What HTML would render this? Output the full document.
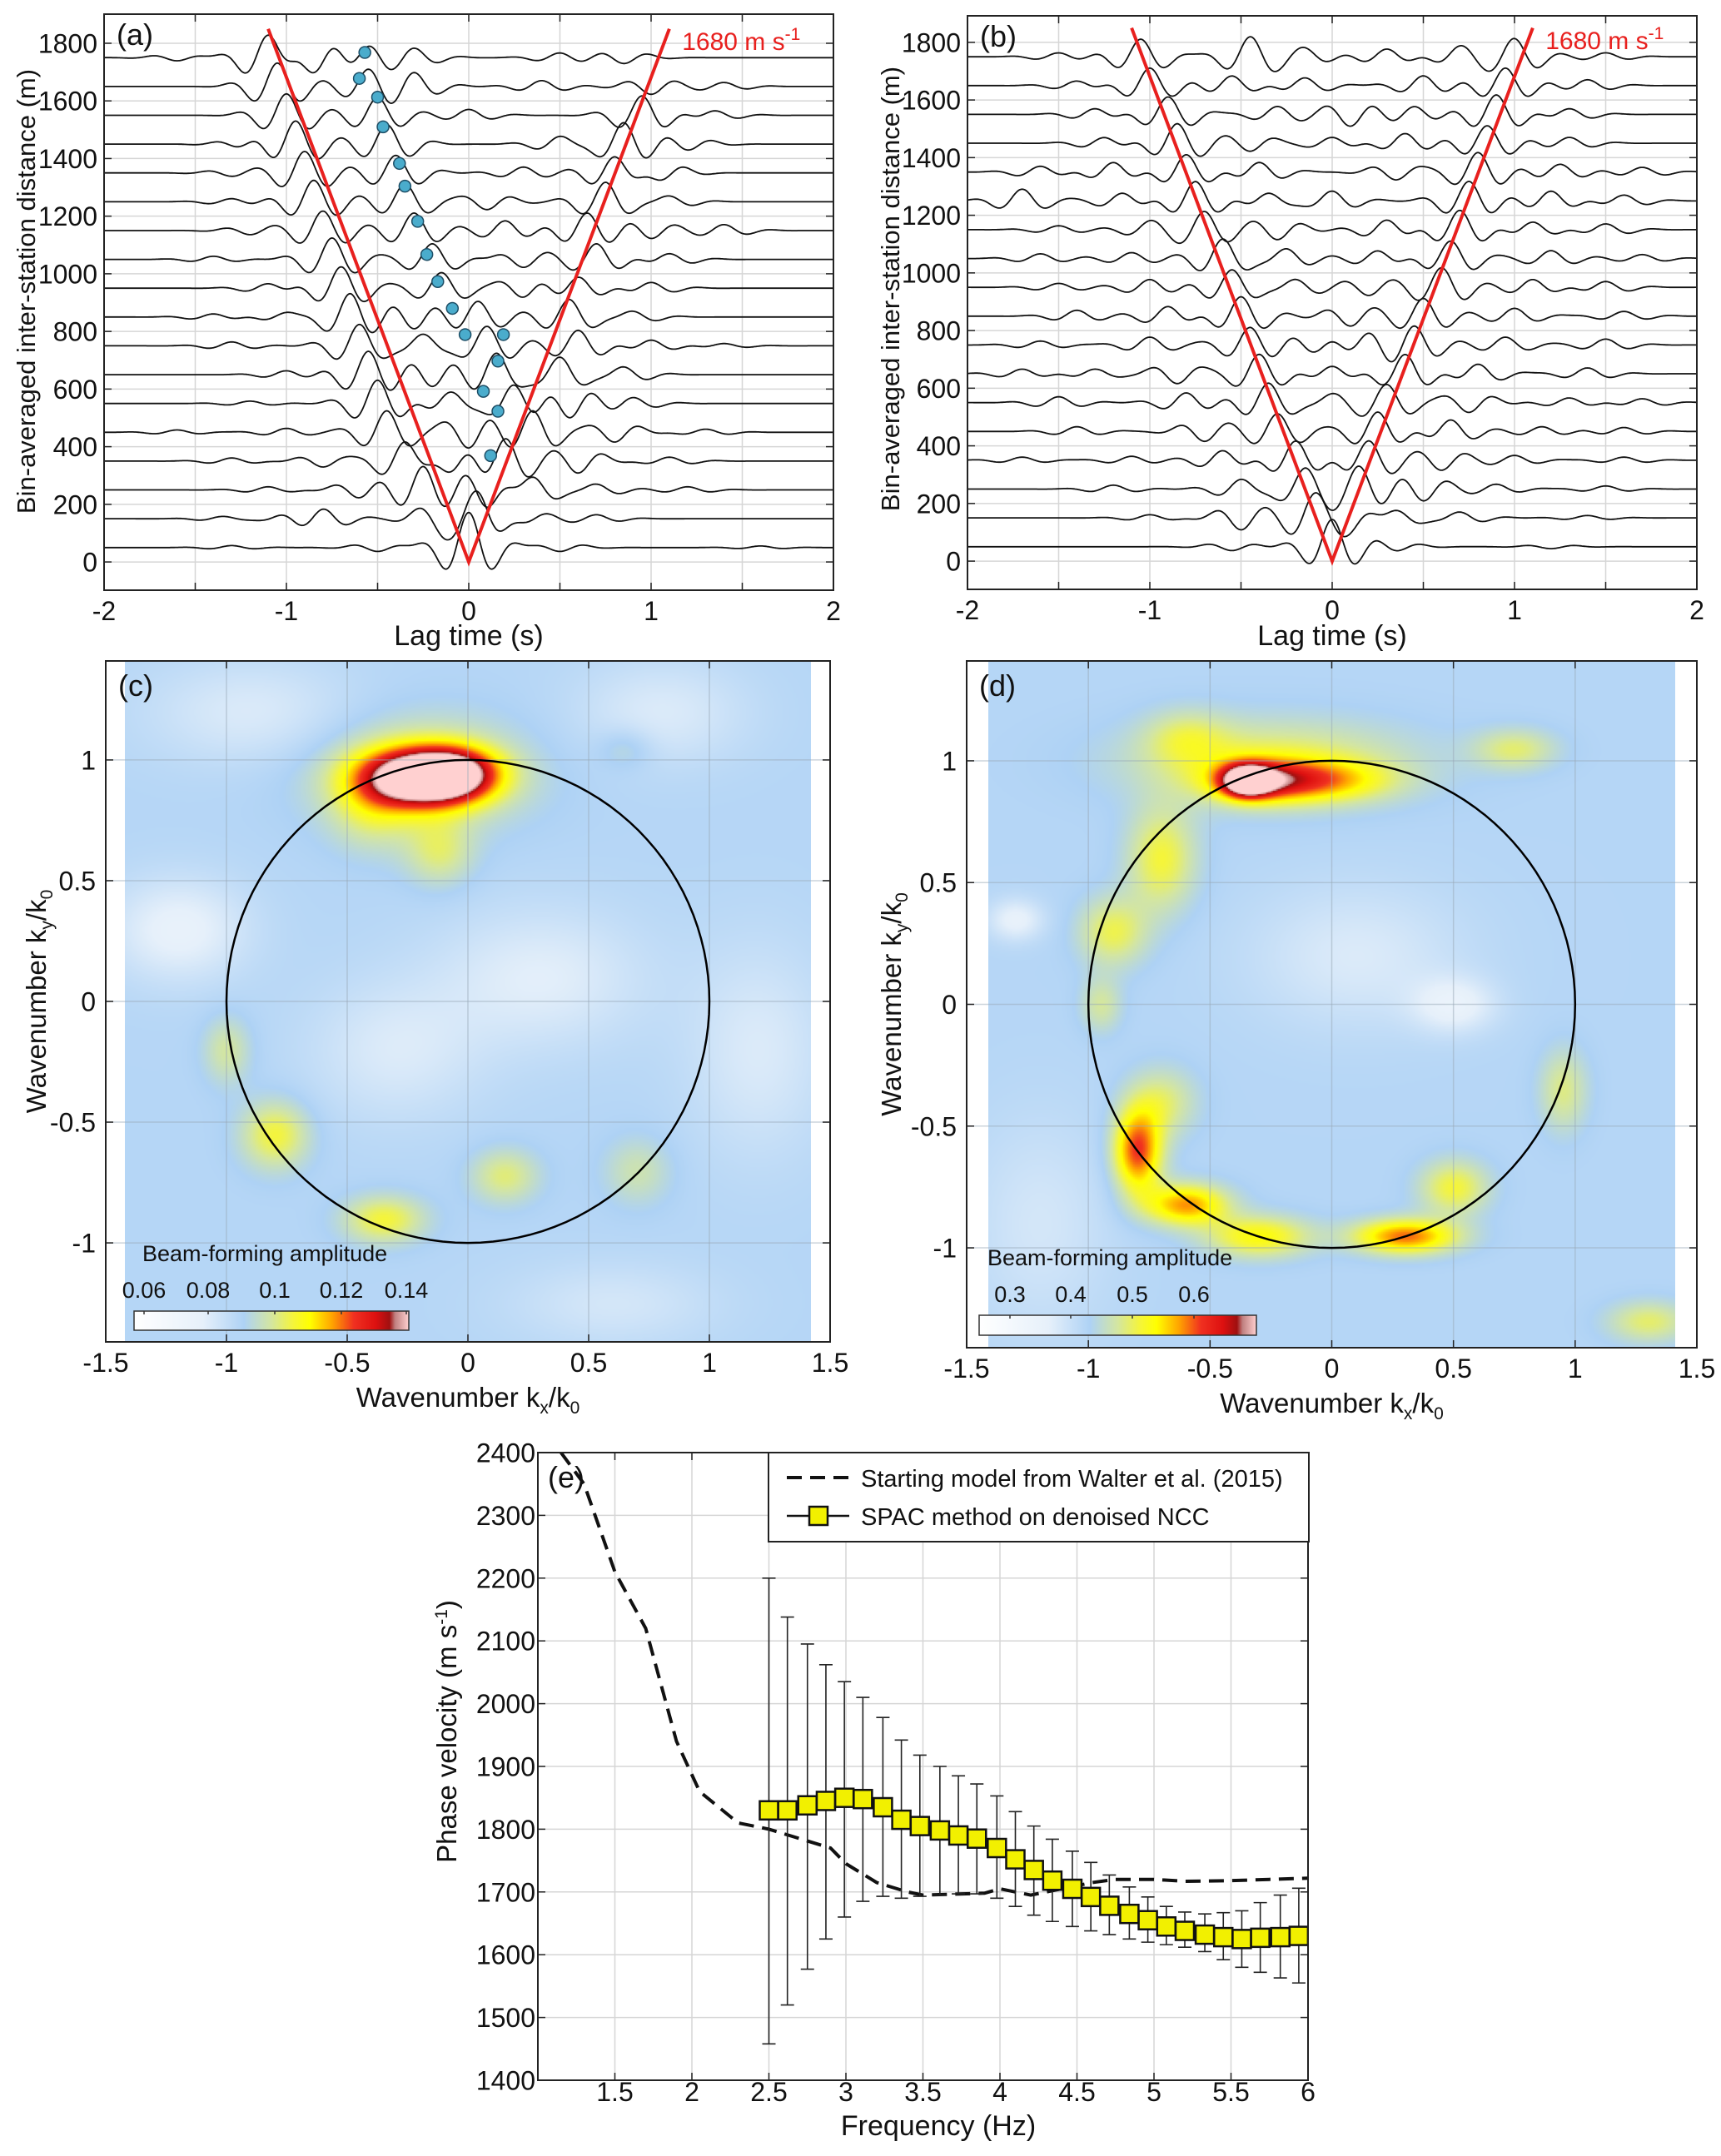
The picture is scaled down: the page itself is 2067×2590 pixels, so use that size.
<!DOCTYPE html>
<html><head><meta charset="utf-8">
<style>
html,body{margin:0;padding:0;background:#fff;}
#wrap{position:relative;width:2067px;height:2590px;overflow:hidden;font-family:"Liberation Sans",sans-serif;}
canvas{position:absolute;}
svg{position:absolute;left:0;top:0;}
</style></head>
<body>
<div id="wrap">
<canvas id="cvC"></canvas>
<canvas id="cvD"></canvas>
<svg id="fig" width="2067" height="2590" xmlns="http://www.w3.org/2000/svg"></svg>
</div>
<script>
// ---------------- DATA ----------------
const distA = [50,150,250,350,450,550,650,750,850,950,1050,1150,1250,1350,1450,1550,1650,1750];
const pulsesA = [
 [[0,90],[-0.5,-10],[0.5,-10],[-1.3,5],[1.6,4]],
 [[0.05,70],[-0.15,-40],[-0.8,25],[0.3,-20],[0.7,10],[-1.0,8],[-1.35,6]],
 [[-0.25,60],[0.1,-50],[0.35,40],[-0.6,-20],[0.7,15],[-1.1,8],[1.2,8]],
 [[-0.35,55],[0.2,60],[-0.1,-40],[0.6,-30],[-0.8,-15],[1.1,10],[-1.3,8]],
 [[-0.45,55],[0.35,55],[0.0,-40],[0.8,-25],[-1.0,10],[1.3,8],[-1.6,6]],
 [[-0.5,60],[0.25,50],[0.55,-40],[-0.1,30],[0.9,15],[-1.2,6]],
 [[-0.55,60],[0.15,55],[0.5,45],[-0.2,-30],[0.85,20],[-1.0,10]],
 [[-0.6,55],[0.1,50],[0.6,40],[-0.25,30],[1.0,15],[-1.3,10],[1.4,6]],
 [[-0.65,60],[0.05,40],[0.55,45],[-0.3,-30],[0.9,15],[-1.0,12],[-1.4,8]],
 [[-0.7,55],[-0.15,40],[0.6,30],[0.3,-25],[1.0,15],[-1.1,12]],
 [[-0.75,55],[-0.2,40],[0.7,40],[0.3,-20],[1.1,15],[-1.4,8]],
 [[-0.8,50],[-0.3,45],[0.65,45],[0.2,25],[1.0,-20],[1.4,15],[-1.2,-10]],
 [[-0.85,55],[-0.35,45],[0.75,50],[0.1,-20],[1.1,15],[-1.3,8]],
 [[-0.9,55],[-0.4,45],[0.8,45],[1.05,-25],[0.3,15],[-1.3,-8]],
 [[-0.95,60],[-0.45,50],[0.85,55],[0.5,20],[1.2,-15],[-1.25,-10]],
 [[-1.0,55],[-0.5,45],[0.95,50],[0.0,15],[1.35,12]],
 [[-1.05,60],[-0.55,40],[-0.3,30],[1.0,-20],[0.4,15],[1.4,10]],
 [[-1.1,65],[-0.85,-50],[-0.55,30],[-0.3,20],[0.5,12],[0.85,-15],[-1.6,-8]]
];
const distB = [50,150,250,350,450,550,650,750,850,950,1050,1150,1250,1350,1450,1550,1650,1750];
const pulsesB = [
 [[0,70],[-0.55,-10],[0.35,-10],[1.2,-5]],
 [[-0.1,60],[0.1,-40],[0.35,25],[-0.5,-30],[0.7,15],[-1.0,8],[1.4,6]],
 [[-0.15,50],[0.15,55],[0.5,-30],[-0.5,25],[0.9,12],[-1.2,10],[1.5,8]],
 [[-0.2,50],[0.2,50],[-0.6,25],[0.6,-25],[1.0,12],[-1.1,10],[-1.7,8],[1.6,8]],
 [[-0.3,45],[0.25,50],[-0.7,-25],[0.65,30],[1.15,12],[-1.4,12],[1.6,10]],
 [[-0.35,50],[0.3,45],[-0.8,25],[0.75,-25],[0.0,20],[1.3,12],[-1.5,15],[1.7,10]],
 [[-0.4,50],[0.4,50],[-0.85,-25],[0.0,20],[0.8,25],[-1.3,12],[1.4,15],[-1.7,12]],
 [[-0.45,45],[0.45,45],[-0.1,-20],[0.2,25],[0.95,20],[-1.0,20],[1.5,15],[-1.6,10]],
 [[-0.5,50],[0.5,45],[-0.9,25],[0.1,-25],[1.0,20],[-1.4,15],[1.6,12]],
 [[-0.55,45],[0.6,50],[-0.2,20],[0.2,-20],[-1.0,20],[1.1,20],[-1.5,10],[1.5,15]],
 [[-0.6,50],[0.65,45],[-0.25,25],[0.25,20],[-1.1,15],[1.2,20],[-1.6,12],[1.7,10]],
 [[-0.7,45],[0.7,50],[-0.3,-25],[0.3,25],[-1.0,20],[1.1,20],[1.5,15],[-1.5,10]],
 [[-0.75,50],[0.75,50],[-0.35,20],[0.0,25],[-1.15,20],[1.2,25],[-1.7,30],[1.6,15]],
 [[-0.8,45],[0.8,50],[-0.4,25],[0.35,-20],[-1.2,25],[1.25,20],[-1.6,15],[1.7,12]],
 [[-0.85,50],[0.85,45],[-0.45,-20],[0.4,25],[-1.25,15],[1.3,15],[0.0,15]],
 [[-0.9,45],[0.9,50],[-0.3,20],[0.1,-30],[-1.3,15],[1.3,15],[0.45,20]],
 [[-1.0,45],[0.95,45],[-0.55,25],[-0.15,20],[0.5,25],[-1.4,12],[1.4,15]],
 [[-1.05,45],[1.0,45],[-0.45,50],[-0.15,20],[0.3,20],[0.7,25],[-1.5,10],[1.5,10]]
];
const dotT = [-0.57,-0.60,-0.50,-0.47,-0.38,-0.35,-0.28,-0.23,-0.17,-0.09,-0.02,0.19,0.16,0.08,0.16,0.12];
const dotD = [1768,1678,1613,1510,1383,1304,1182,1067,973,880,789,789,697,592,523,369];
const vLineT = [-1.1,0,1.1];
const vLineD = [1850,0,1850];

// heatmap blobs: [kx, ky, amp, sx, sy]
const baseC = 0.38;
const blobsC = [
 [-0.19,0.93,0.75,0.17,0.08],[-0.05,0.95,0.3,0.12,0.07],[-0.2,0.95,0.18,0.3,0.16],
 [-0.4,0.8,0.12,0.12,0.12],[-0.12,0.62,0.14,0.1,0.1],
 [-0.8,-0.55,0.2,0.1,0.1],[-0.35,-0.9,0.2,0.12,0.07],[0.15,-0.72,0.15,0.1,0.08],
 [-1.0,-0.2,0.12,0.07,0.1],[0.7,-0.7,0.1,0.1,0.1],[0.65,1.05,0.08,0.08,0.06],
 [-1.2,0.3,-0.15,0.2,0.15],[0.3,0.1,-0.12,0.3,0.2],[-0.3,-0.2,-0.1,0.25,0.2],
 [1.2,-0.2,-0.1,0.2,0.3],[0.8,1.2,-0.1,0.25,0.15],[-0.9,1.2,-0.1,0.3,0.15],[0.6,-1.25,-0.08,0.3,0.12]
];
const baseD = 0.38;
const blobsD = [
 [-0.35,0.92,0.55,0.07,0.045],[-0.3,0.92,0.3,0.15,0.06],[-0.05,0.92,0.25,0.2,0.06],
 [-0.25,1.0,0.18,0.4,0.12],[-0.7,0.6,0.2,0.1,0.15],[-0.9,0.3,0.18,0.1,0.1],
 [-0.6,1.1,0.12,0.12,0.08],[-0.8,-0.6,0.42,0.07,0.12],[-0.6,-0.82,0.35,0.12,0.06],
 [-0.3,-0.95,0.25,0.15,0.06],[0.3,-0.95,0.38,0.15,0.05],[0.5,-0.75,0.2,0.1,0.08],
 [0.95,-0.35,0.14,0.07,0.12],[-0.7,-0.4,0.15,0.1,0.1],[0.75,1.05,0.15,0.12,0.06],
 [1.3,-1.3,0.16,0.12,0.06],[-0.95,0.0,0.12,0.06,0.08],
 [0.5,0.0,-0.15,0.12,0.08],[-1.3,0.35,-0.15,0.08,0.06],[0.1,0.2,-0.1,0.3,0.2],[-1.2,-0.9,-0.08,0.2,0.3]
];
const cmapPos = [0,0.25,0.4,0.5,0.58,0.64,0.72,0.8,0.88,0.93,0.95,1.0];
const cmapCol = ["#ffffff","#e6f0fa","#aed2f5","#d4e6a0","#f5f53a","#ffff00","#ffa500","#f03020","#dd1010","#a01010","#c08080","#ffd0d0"];
const cbTicksC = ["0.06","0.08","0.1","0.12","0.14"];
const cbTicksD = ["0.3","0.4","0.5","0.6"];

// panel e
const modelF = [1.15,1.3,1.5,1.7,1.9,2.05,2.3,2.5,2.9,3.0,3.2,3.4,3.5,3.9,4.0,4.2,4.4,4.6,4.75,5.0,5.2,5.5,6.0];
const modelV = [2400,2350,2210,2120,1940,1860,1810,1800,1770,1745,1715,1700,1695,1698,1705,1695,1705,1715,1720,1720,1717,1718,1722];
const spacF = [2.5,2.62,2.75,2.87,2.99,3.11,3.24,3.36,3.48,3.61,3.73,3.85,3.98,4.1,4.22,4.34,4.47,4.59,4.71,4.84,4.96,5.08,5.2,5.33,5.45,5.57,5.69,5.82,5.94];
const spacV = [1830,1830,1838,1845,1850,1848,1835,1815,1805,1798,1790,1785,1770,1752,1735,1718,1705,1692,1678,1665,1655,1645,1638,1632,1628,1625,1627,1628,1630];
const spacHi = [2200,2138,2095,2062,2035,2010,1978,1942,1918,1900,1885,1872,1853,1828,1805,1784,1765,1747,1727,1708,1692,1677,1668,1665,1667,1670,1683,1695,1706];
const spacLo = [1458,1520,1577,1625,1660,1685,1693,1690,1693,1695,1697,1697,1690,1677,1663,1653,1645,1638,1632,1625,1620,1616,1612,1605,1592,1580,1572,1563,1555];

// ---------------- RENDER ----------------
const NS="http://www.w3.org/2000/svg";
const svg=document.getElementById('fig');
const TICK_FS=32;
function mk(tag,attrs,parent){const e=document.createElementNS(NS,tag);for(const k in attrs)e.setAttribute(k,attrs[k]);(parent||svg).appendChild(e);return e;}
function axis(x0,x1,xmin,xmax,y0,y1,ymin,ymax){return{x0,x1,y0,y1,X:v=>x0+(v-xmin)/(xmax-xmin)*(x1-x0),Y:v=>y0+(v-ymin)/(ymax-ymin)*(y1-y0)};}

const pA=axis(125,1001,-2,2,709,17,-98,1901);
const pB=axis(1162,2038,-2,2,708,19,-98,1892);
const pC=axis(127,997,-1.5,1.5,1612,794,-1.41,1.41);
const pD=axis(1161,2038,-1.5,1.5,1619,794,-1.41,1.41);
const pE=axis(646,1571,1.0,6.0,2499,1745,1400,2400);

function frame(p,name,xt,xl,yt,yl,fs,tickLen){
  const g=mk('g',{});
  
  
  xt.forEach(v=>{const x=p.X(v);mk('line',{x1:x,x2:x,y1:p.y1,y2:p.y0,stroke:'#d6d6d6','stroke-width':1.5},g);
    mk('line',{x1:x,x2:x,y1:p.y0,y2:p.y0-tickLen,stroke:'#222','stroke-width':1.5},g);
    mk('line',{x1:x,x2:x,y1:p.y1,y2:p.y1+tickLen,stroke:'#222','stroke-width':1.5},g);});
  yt.forEach(v=>{const y=p.Y(v);mk('line',{x1:p.x0,x2:p.x1,y1:y,y2:y,stroke:'#d6d6d6','stroke-width':1.5},g);
    mk('line',{x1:p.x0,x2:p.x0+tickLen,y1:y,y2:y,stroke:'#222','stroke-width':1.5},g);
    mk('line',{x1:p.x1,x2:p.x1-tickLen,y1:y,y2:y,stroke:'#222','stroke-width':1.5},g);});
  return g;
}
function border(p,name){const r=mk('rect',{x:p.x0,y:p.y1,width:p.x1-p.x0,height:p.y0-p.y1,fill:'none',stroke:'#222','stroke-width':2});
  
  }
function text(x,y,s,fs,anchor,name,extra){const t=mk('text',Object.assign({x:x,y:y,'font-size':fs,'text-anchor':anchor||'middle','font-family':'Liberation Sans, sans-serif',fill:'#111'},extra||{}));t.textContent=s;
  
  return t;}
function ticksLabels(p,xv,xs,yv,ys,name,fs,ylx,xly){
  xv.forEach((v,i)=>text(p.X(v),xly,xs[i],fs,'middle',name+'-x-tick-label'));
  yv.forEach((v,i)=>text(ylx,p.Y(v)+fs*0.36,ys[i],fs,'end',name+'-y-tick-label'));
}

// ---- panels a, b
const WAVE_W=0.19, WAVE_F=3.6, WAVE_GAIN=1.35;
function wigglePanel(p,dist,pulses,name){
  const xt=[-2,-1.5,-1,-0.5,0,0.5,1,1.5,2];
  const yt=[0,200,400,600,800,1000,1200,1400,1600,1800];
  frame(p,name,xt,[],yt,[],24,9);
  const clipId='clip-'+name;
  const cp=mk('clipPath',{id:clipId});mk('rect',{x:p.x0,y:p.y1,width:p.x1-p.x0,height:p.y0-p.y1},cp);
  const g=mk('g',{'clip-path':'url(#'+clipId+')'});
  
  
  dist.forEach((d,k)=>{
    let pts=[];
    for(let t=-2;t<=2.0001;t+=0.005){
      let y=d;
      pulses[k].forEach(pp=>{const u=t-pp[0];y+=WAVE_GAIN*pp[1]*Math.exp(-(u/WAVE_W)*(u/WAVE_W))*Math.cos(2*Math.PI*WAVE_F*u);});
      pts.push(p.X(t).toFixed(1)+','+p.Y(y).toFixed(1));
    }
    const pl=mk('polyline',{points:pts.join(' '),fill:'none',stroke:'#111','stroke-width':1.8},g);
    
    
  });
  const vl=mk('polyline',{points:vLineT.map((t,i)=>p.X(t)+','+p.Y(vLineD[i])).join(' '),fill:'none',stroke:'#e8201e','stroke-width':4});
  
  
  border(p,name);
  ticksLabels(p,[-2,-1,0,1,2],['-2','-1','0','1','2'],yt,yt.map(String),name,TICK_FS,p.x0-8,p.y0+36);
  const lab=text(p.X(1.17),p.Y(1800)+8,'1680 m s',30,'start',name+'-velocity-label',{fill:'#e8201e'});
  const sup=mk('tspan',{dy:-12,'font-size':21},lab);sup.textContent='-1';
  text(p.x0+15,p.y1+37,name==='panel-a'?'(a)':'(b)',36,'start',name+'-label');
  text((p.x0+p.x1)/2,775,'Lag time (s)',34,'middle',name+'-x-axis-title');
}
wigglePanel(pA,distA,pulsesA,'panel-a');
wigglePanel(pB,distB,pulsesB,'panel-b');
text(0,0,'Bin-averaged inter-station distance (m)',31,'middle','panel-a-y-axis-title',{transform:'translate(42,350) rotate(-90)'});
text(0,0,'Bin-averaged inter-station distance (m)',31,'middle','panel-b-y-axis-title',{transform:'translate(1080,347) rotate(-90)'});
dotT.forEach((t,i)=>{const c=mk('circle',{cx:pA.X(t),cy:pA.Y(dotD[i]),r:7,fill:'#4aaccc',stroke:'#1d4e66','stroke-width':1.5});
  
  });

// ---- heatmaps
function hexToRgb(h){return[parseInt(h.substr(1,2),16),parseInt(h.substr(3,2),16),parseInt(h.substr(5,2),16)];}
const cmapRgb=cmapCol.map(hexToRgb);
function cmap(v){if(v<=0)return cmapRgb[0];if(v>=1)return cmapRgb[cmapRgb.length-1];
  for(let i=1;i<cmapPos.length;i++){if(v<=cmapPos[i]){const f=(v-cmapPos[i-1])/(cmapPos[i]-cmapPos[i-1]);const a=cmapRgb[i-1],b=cmapRgb[i];return[a[0]+(b[0]-a[0])*f,a[1]+(b[1]-a[1])*f,a[2]+(b[2]-a[2])*f];}}
  return cmapRgb[cmapRgb.length-1];}
function heat(cvId,p,base,blobs,kmax){
  const cv=document.getElementById(cvId);
  const xL=Math.round(p.X(-kmax)),xR=Math.round(p.X(kmax));const yT=p.y1,yB=p.y0;
  const w=xR-xL,h=yB-yT;cv.width=w;cv.height=h;cv.style.left=xL+'px';cv.style.top=yT+'px';
  const ctx=cv.getContext('2d');const im=ctx.createImageData(w,h);
  const sx=(p.x1-p.x0)/3, sy=(p.y0-p.y1)/2.82;
  for(let j=0;j<h;j+=2)for(let i=0;i<w;i+=2){
    const kx=-kmax+i/sx, ky=1.41-j/sy;let v=base;
    blobs.forEach(b=>{const dx=(kx-b[0])/b[3],dy=(ky-b[1])/b[4];v+=b[2]*Math.exp(-0.5*(dx*dx+dy*dy));});
    const c=cmap(v);
    for(let a=0;a<2;a++)for(let bb=0;bb<2;bb++){if(i+a>=w||j+bb>=h)continue;const o=((j+bb)*w+i+a)*4;im.data[o]=c[0];im.data[o+1]=c[1];im.data[o+2]=c[2];im.data[o+3]=255;}
  }
  ctx.putImageData(im,0,0);
}
heat('cvC',pC,baseC,blobsC,1.42);
heat('cvD',pD,baseD,blobsD,1.41);

function kPanel(p,name,letter,cb,cbTicks,cbTickX,ylx){
  const xt=[-1.5,-1,-0.5,0,0.5,1,1.5],yt=[-1,-0.5,0,0.5,1];
  const g=frame(p,name,xt,[],yt,[],24,9);
  g.querySelectorAll('line').forEach(l=>{if(l.getAttribute('stroke')==='#d6d6d6'){l.setAttribute('stroke','#9aaab8');l.setAttribute('stroke-opacity','0.5');}});
  let pts=[];for(let a=0;a<=360;a+=3){const r=a*Math.PI/180;pts.push(p.X(Math.cos(r)).toFixed(1)+','+p.Y(Math.sin(r)).toFixed(1));}
  const c=mk('polyline',{points:pts.join(' '),fill:'none',stroke:'#000','stroke-width':2.5});
  
  
  border(p,name);
  ticksLabels(p,xt,['-1.5','-1','-0.5','0','0.5','1','1.5'],yt,['-1','-0.5','0','0.5','1'],name,TICK_FS,p.x0-12,p.y0+36);
  text(p.x0+15,p.y1+42,letter,36,'start',name+'-label');
  const xtl=text((p.x0+p.x1)/2,p.y0+78,'Wavenumber k',33,'middle',name+'-x-axis-title');
  let s1=mk('tspan',{'font-size':21,dy:8},xtl);s1.textContent='x';
  let s2=mk('tspan',{dy:-8},xtl);s2.textContent='/k';
  let s3=mk('tspan',{'font-size':21,dy:8},xtl);s3.textContent='0';
  const ytl=text(0,0,'Wavenumber k',33,'middle',name+'-y-axis-title',{transform:'translate('+ylx+','+p.Y(0)+') rotate(-90)'});
  s1=mk('tspan',{'font-size':21,dy:8},ytl);s1.textContent='y';
  s2=mk('tspan',{dy:-8},ytl);s2.textContent='/k';
  s3=mk('tspan',{'font-size':21,dy:8},ytl);s3.textContent='0';
  const gid='grad-'+name;const lg=mk('linearGradient',{id:gid,x1:0,x2:1,y1:0,y2:0});
  cmapPos.forEach((v,i)=>mk('stop',{offset:v,'stop-color':cmapCol[i]},lg));
  const r=mk('rect',{x:cb[0],y:cb[1],width:cb[2],height:cb[3],fill:'url(#'+gid+')',stroke:'#333','stroke-width':1.5});
  
  
  text(cb[0]+10,cb[1]-60,'Beam-forming amplitude',27,'start',name+'-colorbar-title');
  cbTicks.forEach((s,i)=>{text(cbTickX[i],cb[1]-16,s,27,'middle',name+'-colorbar-tick-label');
    mk('line',{x1:cbTickX[i],x2:cbTickX[i],y1:cb[1],y2:cb[1]+4,stroke:'#333','stroke-width':1.5});});
}
kPanel(pC,'panel-c','(c)',[161,1575,330,23],cbTicksC,[173,250,330,410,488],55);
kPanel(pD,'panel-d','(d)',[1176,1580,333,24],cbTicksD,[1213,1286,1360,1434],1082);

// ---- panel e
(function(){
  const p=pE,name='panel-e';
  const xt=[1.5,2,2.5,3,3.5,4,4.5,5,5.5,6],yt=[1400,1500,1600,1700,1800,1900,2000,2100,2200,2300,2400];
  frame(p,name,xt,[],yt,[],24,9);
  const cp=mk('clipPath',{id:'clip-e'});mk('rect',{x:p.x0,y:p.y1,width:p.x1-p.x0,height:p.y0-p.y1},cp);
  const g=mk('g',{'clip-path':'url(#clip-e)'});
  
  
  const ml=mk('polyline',{points:modelF.map((f,i)=>p.X(f)+','+p.Y(modelV[i])).join(' '),fill:'none',stroke:'#111','stroke-width':4,'stroke-dasharray':'18 10'},g);
  
  
  spacF.forEach((f,i)=>{const x=p.X(f);
    const eb=mk('path',{d:'M'+x+','+p.Y(spacHi[i])+'V'+p.Y(spacLo[i])+'M'+(x-8)+','+p.Y(spacHi[i])+'H'+(x+8)+'M'+(x-8)+','+p.Y(spacLo[i])+'H'+(x+8),stroke:'#222','stroke-width':1.6,fill:'none'},g);
    
    });
  const sl=mk('polyline',{points:spacF.map((f,i)=>p.X(f)+','+p.Y(spacV[i])).join(' '),fill:'none',stroke:'#111','stroke-width':2.5},g);
  
  
  spacF.forEach((f,i)=>{const r=mk('rect',{x:p.X(f)-11,y:p.Y(spacV[i])-11,width:22,height:22,fill:'#f2f000',stroke:'#111','stroke-width':2.5},g);
    
    });
  border(p,name);
  ticksLabels(p,xt,['1.5','2','2.5','3','3.5','4','4.5','5','5.5','6'],yt,yt.map(String),name,TICK_FS,p.x0-3,2524);
  text(p.x0+12,p.y1+42,'(e)',36,'start',name+'-label');
  text(1127,2565,'Frequency (Hz)',34,'middle',name+'-x-axis-title');
  const yl=text(0,0,'Phase velocity (m s',33,'middle',name+'-y-axis-title',{transform:'translate(548,2080) rotate(-90)'});
  let s=mk('tspan',{dy:-11,'font-size':21},yl);s.textContent='-1';
  s=mk('tspan',{dy:11},yl);s.textContent=')';
  const lg=mk('g',{});
  
  
  mk('rect',{x:923,y:1745,width:649,height:107,fill:'#fff',stroke:'#222','stroke-width':2},lg);
  mk('line',{x1:945,x2:1020,y1:1775,y2:1775,stroke:'#111','stroke-width':4,'stroke-dasharray':'18 10'},lg);
  mk('line',{x1:945,x2:1020,y1:1821,y2:1821,stroke:'#111','stroke-width':2.5},lg);
  mk('rect',{x:972,y:1810,width:22,height:22,fill:'#f2f000',stroke:'#111','stroke-width':2.5},lg);
  text(1034,1786,'Starting model from Walter et al. (2015)',29,'start','legend-entry-starting-model');
  text(1034,1832,'SPAC method on denoised NCC',29,'start','legend-entry-spac');
})();
</script>
</body></html>
